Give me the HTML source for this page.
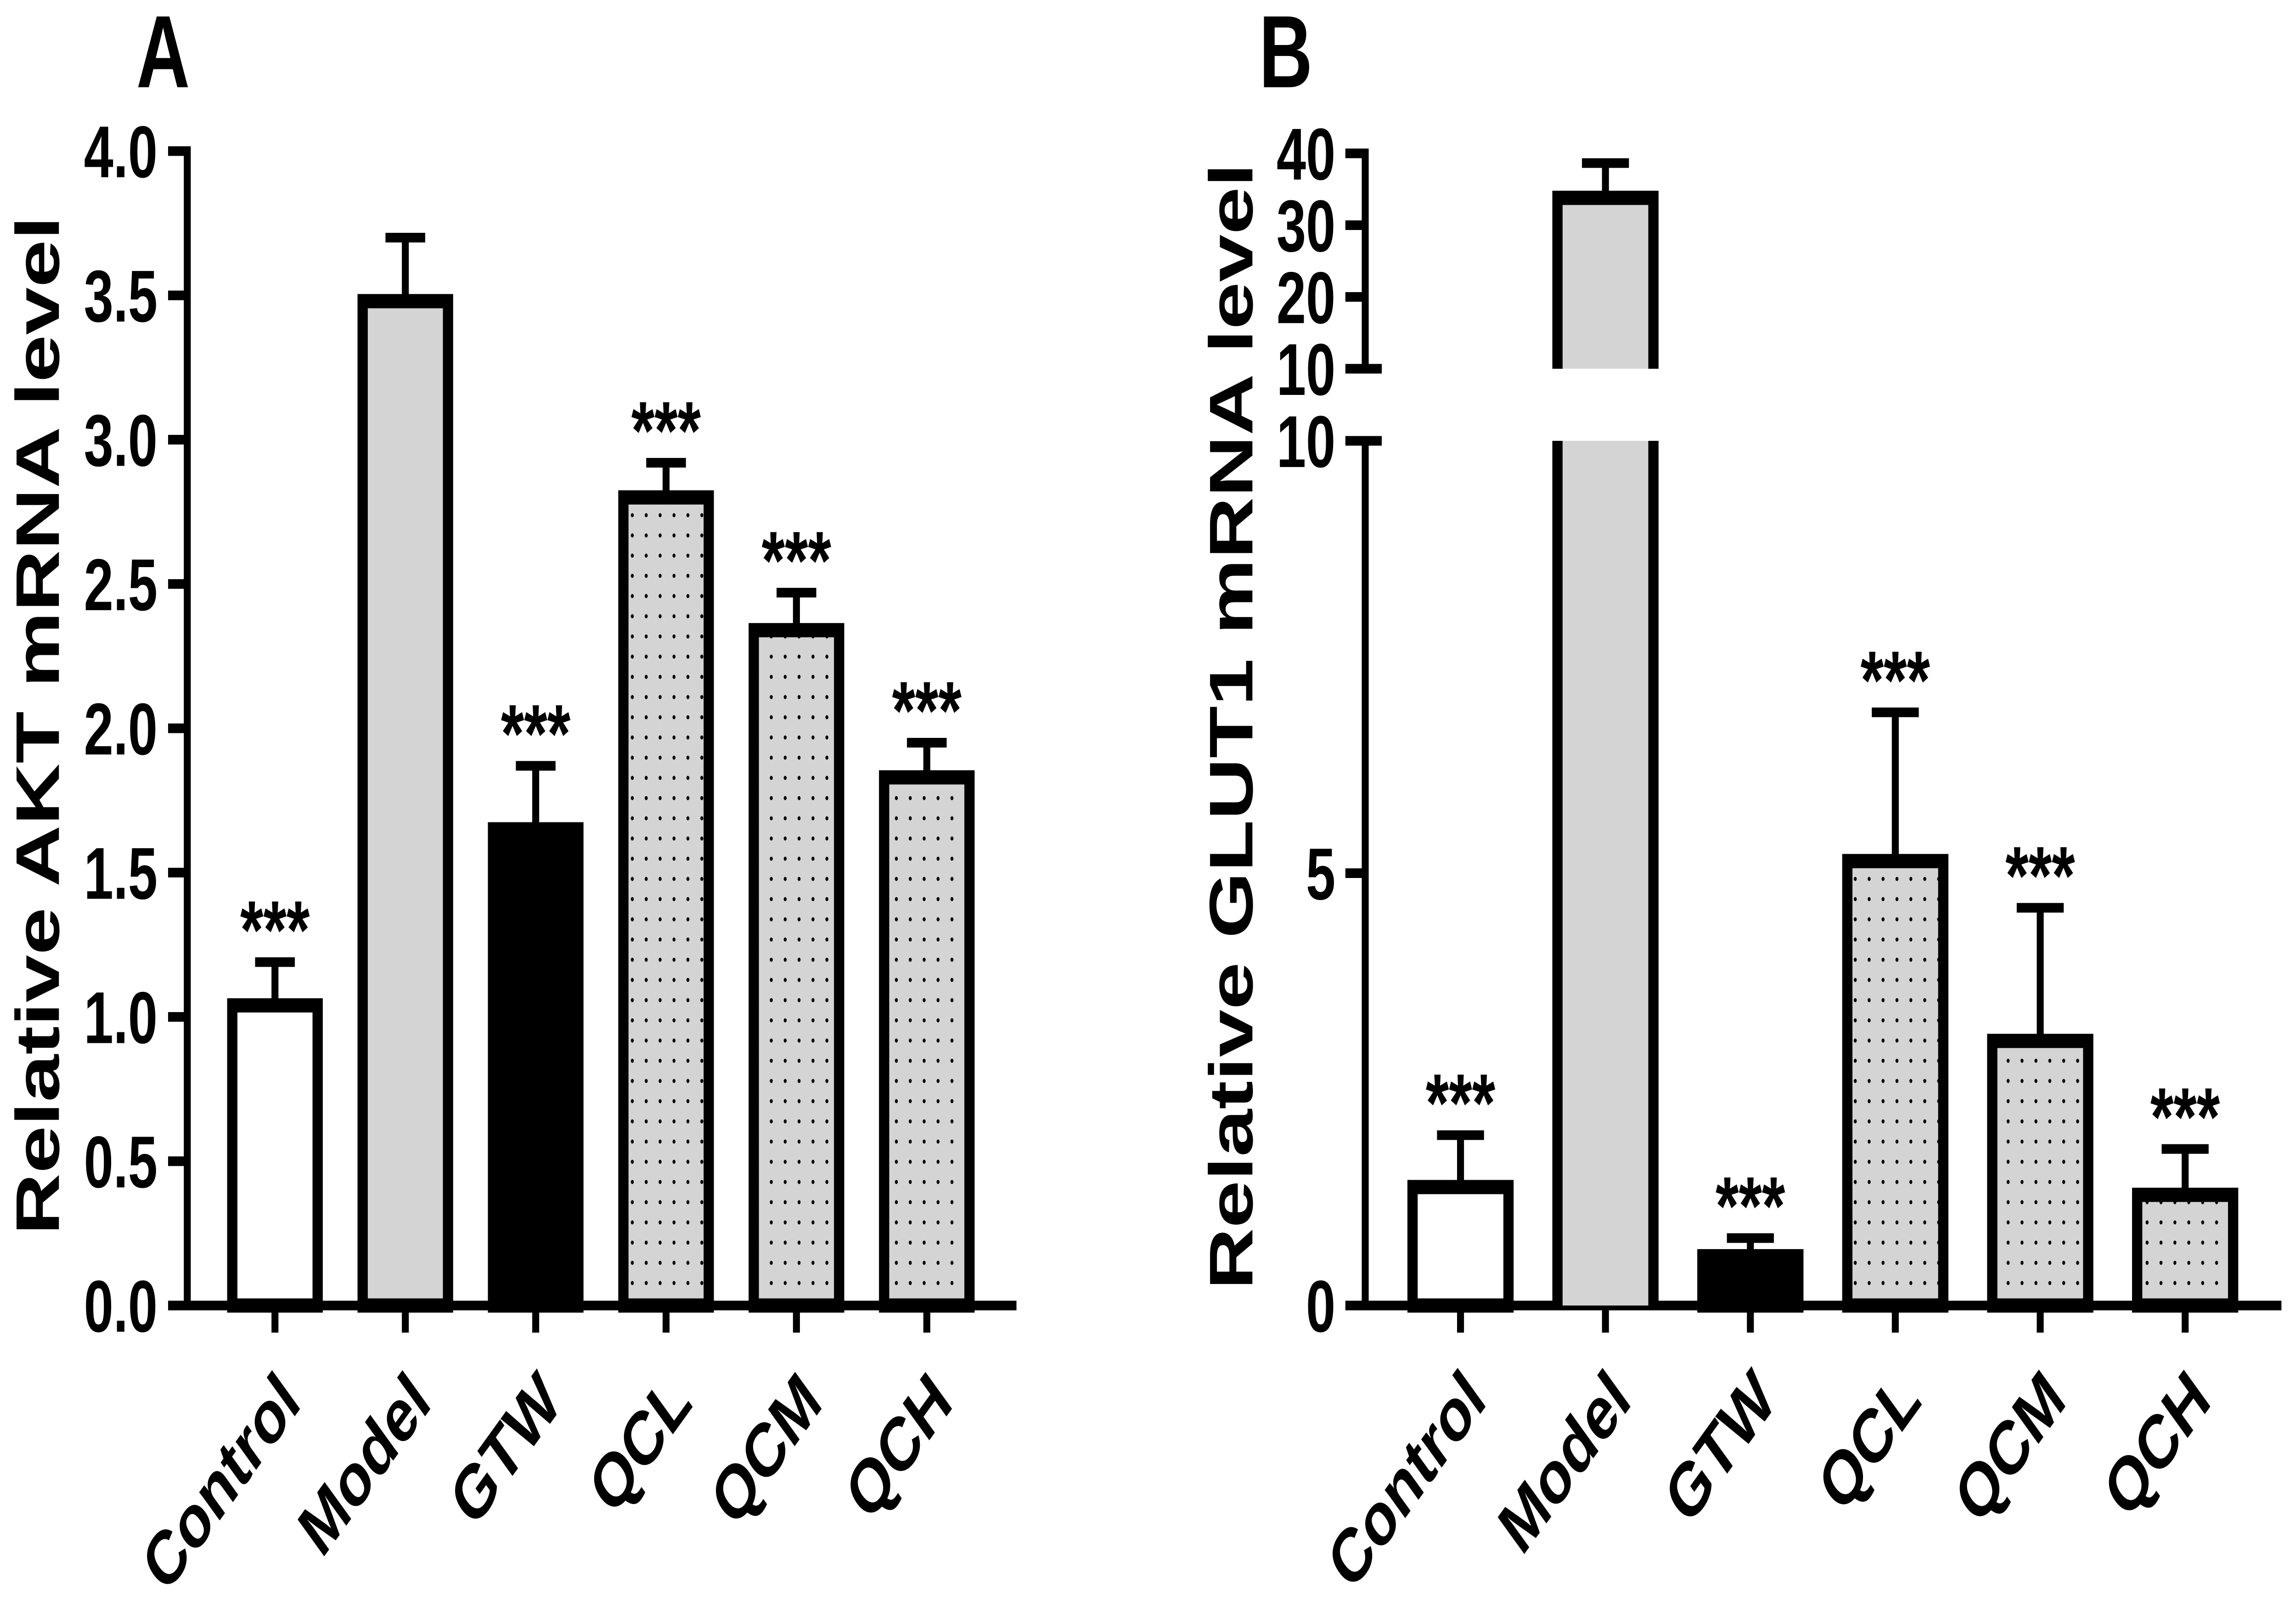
<!DOCTYPE html>
<html><head><meta charset="utf-8"><style>
html,body{margin:0;padding:0;background:#fff;width:100vw;height:100vh;overflow:hidden;}
svg{display:block;width:100vw;height:100vh;}
text{font-family:"Liberation Sans",Arial,sans-serif;font-weight:bold;fill:#000;}
</style></head><body>
<svg id="fig" viewBox="0 0 6939 3493" preserveAspectRatio="none" xmlns="http://www.w3.org/2000/svg">
<defs>
<pattern id="dots" width="42" height="44" patternUnits="userSpaceOnUse">
<rect width="42" height="44" fill="#d4d4d4"/>
<circle cx="21" cy="22" r="4.5" fill="#000"/>
</pattern>
</defs>
<g id="panelA"></g>
<g id="panelB"></g>
</svg>
<script>
const categories = ["Control","Model","GTW","QCL","QCM","QCH"];
const fills = ["#ffffff","#d4d4d4","#000000","url(#dots)","url(#dots)","url(#dots)"];
const aValues = [1.04, 3.48, 1.65, 2.80, 2.34, 1.83];
const aErrTops = [1.19, 3.70, 1.87, 2.92, 2.47, 1.95];
const aSig = ["***","","***","***","***","***"];
const aTicks = ["0.0","0.5","1.0","1.5","2.0","2.5","3.0","3.5","4.0"];
const bValues = [1.37, 33.8, 0.57, 5.14, 3.06, 1.28];
const bErrTops = [1.97, 38.65, 0.78, 6.86, 4.60, 1.81];
const bSig = ["***","","***","***","***","***"];
const bLowTicks = ["0","5","10"];
const bHighTicks = ["10","20","30","40"];

const NS = "http://www.w3.org/2000/svg";
function mk(parent, tag, attrs, txt){
  const e = document.createElementNS(NS, tag);
  for (const k in attrs) e.setAttribute(k, attrs[k]);
  if (txt !== undefined) e.textContent = txt;
  parent.appendChild(e);
  return e;
}
const LW = 21, BW = 31;

/* ---------- Panel A ---------- */
(function(){
  const g = document.getElementById('panelA');
  const axX = 566, y0 = 2843, y4 = 329, xEnd = 3072;
  const yA = v => y0 + (y4 - y0) * v / 4;
  const xA = i => 831 + i * 394;
  const barW = 258;
  let t = mk(g,'text',{x:412,y:190,'font-size':224});
  t.textContent = 'A';
  
  
  t = mk(g,'text',{x:0,y:0,'font-size':186,'text-anchor':'middle',transform:'translate(178,1580) rotate(-90)'});
  t.textContent = 'Relative AKT mRNA level';
  
  
  let l = mk(g,'line',{x1:axX,y1:y4-LW/2,x2:axX,y2:y0,stroke:'#000','stroke-width':LW});
  
  
  l = mk(g,'line',{x1:axX-LW/2,y1:y0,x2:xEnd,y2:y0,stroke:'#000','stroke-width':LW});
  
  
  aTicks.forEach(lab => {
    const v = parseFloat(lab), y = yA(v);
    const tk = mk(g,'line',{x1:508,y1:y,x2:axX,y2:y,stroke:'#000','stroke-width':LW});
    
    
    const tl = mk(g,'text',{x:476,y:y+57,'font-size':160,'text-anchor':'end'},lab);
    
    
  });
  categories.forEach((c,i) => {
    const cx = xA(i);
    const er = mk(g,'line',{x1:cx,y1:yA(aValues[i]),x2:cx,y2:yA(aErrTops[i]),stroke:'#000','stroke-width':LW});
    
    
    const cap = mk(g,'line',{x1:cx-60,y1:yA(aErrTops[i]),x2:cx+60,y2:yA(aErrTops[i]),stroke:'#000','stroke-width':LW});
    
    
    const r = mk(g,'rect',{x:cx-barW/2,y:yA(aValues[i]),width:barW,height:y0-yA(aValues[i]),fill:fills[i],stroke:'#000','stroke-width':BW});
    
    
    const tk = mk(g,'line',{x1:cx,y1:y0,x2:cx,y2:2902,stroke:'#000','stroke-width':LW});
    
    
    const xl = mk(g,'text',{x:0,y:0,'font-size':165,'text-anchor':'end',transform:`translate(${cx+84},${3060}) rotate(-45)`},c);
    
    
    if (aSig[i]) {
      const s = mk(g,'text',{x:cx,y:yA(aErrTops[i])-8,'font-size':180,'text-anchor':'middle'},aSig[i]);
      
      
    }
  });
})();

/* ---------- Panel B ---------- */
(function(){
  const g = document.getElementById('panelB');
  const axX = 4126, y0 = 2843, y10lo = 960, y10hi = 803, y40 = 334, xEnd = 6895;
  const yLo = v => y0 + (y10lo - y0) * v / 10;
  const yHi = v => y10hi + (y40 - y10hi) * (v - 10) / 30;
  const xB = i => 4414 + i * 438;
  const barW = 290;
  let t = mk(g,'text',{x:3805,y:190,'font-size':224});
  t.textContent = 'B';
  
  
  t = mk(g,'text',{x:0,y:0,'font-size':186,'text-anchor':'middle',transform:'translate(3785,1582) rotate(-90)'});
  t.textContent = 'Relative GLUT1 mRNA level';
  
  
  let l = mk(g,'line',{x1:axX,y1:y40-LW/2,x2:axX,y2:y10hi,stroke:'#000','stroke-width':LW});
  
  
  l = mk(g,'line',{x1:axX,y1:y10lo,x2:axX,y2:y0,stroke:'#000','stroke-width':LW});
  
  
  l = mk(g,'line',{x1:axX-LW/2,y1:y0,x2:xEnd,y2:y0,stroke:'#000','stroke-width':LW});
  
  
  bLowTicks.forEach(lab => {
    const v = parseFloat(lab), y = yLo(v);
    const right = (v === 10) ? axX + 50 : axX;
    const tk = mk(g,'line',{x1:4066,y1:y,x2:right,y2:y,stroke:'#000','stroke-width':LW});
    
    
    const tl = mk(g,'text',{x:4036,y:y+57,'font-size':160,'text-anchor':'end'},lab);
    
    
  });
  bHighTicks.forEach(lab => {
    const v = parseFloat(lab), y = yHi(v);
    const right = (v === 10) ? axX + 50 : axX;
    const tk = mk(g,'line',{x1:4066,y1:y,x2:right,y2:y,stroke:'#000','stroke-width':LW});
    
    
    const tl = mk(g,'text',{x:4036,y:y+57,'font-size':160,'text-anchor':'end'},lab);
    
    
  });
  categories.forEach((c,i) => {
    const cx = xB(i);
    const v = bValues[i], e = bErrTops[i];
    const broken = v > 10;
    const yv = broken ? yHi(v) : yLo(v);
    const ye = e > 10 ? yHi(e) : yLo(e);
    const er = mk(g,'line',{x1:cx,y1:yv,x2:cx,y2:ye,stroke:'#000','stroke-width':LW});
    
    
    const cap = mk(g,'line',{x1:cx-71,y1:ye,x2:cx+71,y2:ye,stroke:'#000','stroke-width':LW});
    
    
    if (broken) {
      const x0 = cx - barW/2, x1 = cx + barW/2;
      const fu = mk(g,'rect',{x:x0,y:yv,width:barW,height:y10hi-yv,fill:fills[i]});
      
      
      const pu = mk(g,'path',{d:`M${x0},${y10hi} V${yv} H${x1} V${y10hi}`,fill:'none',stroke:'#000','stroke-width':BW});
      
      
      const fl = mk(g,'rect',{x:x0,y:y10lo,width:barW,height:y0-y10lo,fill:fills[i]});
      
      
      const pl = mk(g,'path',{d:`M${x0},${y10lo} V${y0} M${x1},${y10lo} V${y0}`,fill:'none',stroke:'#000','stroke-width':BW});
      
      
    } else {
      const r = mk(g,'rect',{x:cx-barW/2,y:yv,width:barW,height:y0-yv,fill:fills[i],stroke:'#000','stroke-width':BW});
      
      
    }
    const tk = mk(g,'line',{x1:cx,y1:y0,x2:cx,y2:2902,stroke:'#000','stroke-width':LW});
    
    
    const xl = mk(g,'text',{x:0,y:0,'font-size':165,'text-anchor':'end',transform:`translate(${cx+84},${3055}) rotate(-45)`},c);
    
    
    if (bSig[i]) {
      const s = mk(g,'text',{x:cx,y:ye-8,'font-size':180,'text-anchor':'middle'},bSig[i]);
      
      
    }
  });
})();
</script>
</body></html>
